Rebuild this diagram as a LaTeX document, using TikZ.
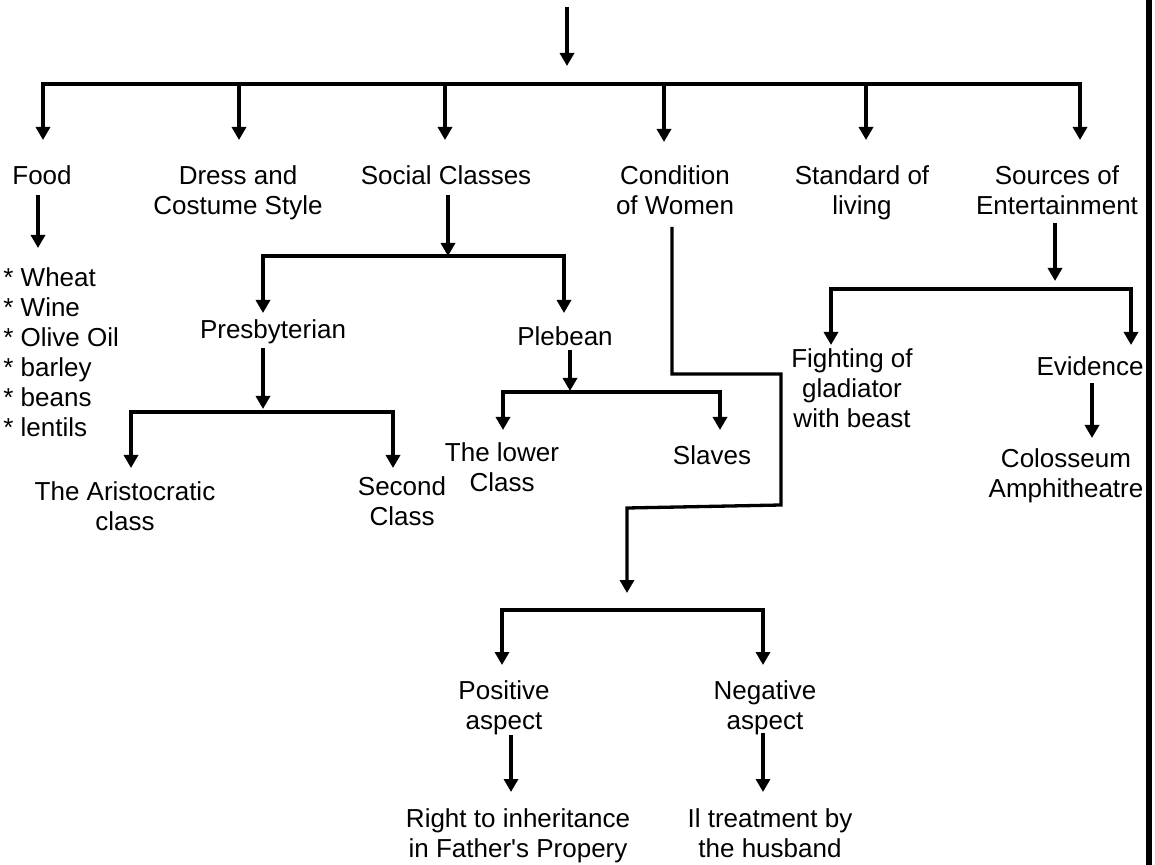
\documentclass[tikz,border=0pt]{standalone}
\usepackage{fontspec}
\setmainfont{Liberation Sans}
\newfontfamily\aposfont{Liberation Sans}
\usetikzlibrary{arrows.meta}
\begin{document}
\begin{tikzpicture}[x=0.5pt,y=-0.5pt,
  lbl/.style={align=center,inner sep=0pt,anchor=base,font=\fontsize{13}{15}\selectfont},
  ln/.style={line width=1.65pt},
  arr/.style={ln,-{Triangle[width=7pt,length=6.5pt]}},
  barr/.style={ln,{Triangle[width=7pt,length=6.5pt]}-{Triangle[width=7pt,length=6.5pt]}},
]
\useasboundingbox[fill=white] (0,0) rectangle (1155,865);

% labels (base anchor = baseline of the last line)
\node[lbl] (food) at (42,185) {Food};
\node[lbl] (dress) at (238,215) {Dress and\\Costume Style};
\node[lbl] (social) at (446,185) {Social Classes};
\node[lbl] (women) at (675,215) {Condition\\of Women};
\node[lbl] (living) at (862,215) {Standard of\\living};
\node[lbl] (ent) at (1057,215) {Sources of\\Entertainment};
\node[lbl,align=left,anchor=base west] (items) at (3,437) {* Wheat\\* Wine\\* Olive Oil\\* barley\\* beans\\* lentils};
\node[lbl] (presb) at (273,339) {Presbyterian};
\node[lbl] (pleb) at (565,346) {Plebean};
\node[lbl] (aristo) at (125,530) {The Aristocratic\\class};
\node[lbl] (second) at (402,525) {Second\\Class};
\node[lbl] (lower) at (502,491) {The lower\\Class};
\node[lbl] (slaves) at (712,465) {Slaves};
\node[lbl] (fight) at (852,428) {Fighting of\\gladiator\\with beast};
\node[lbl] (evid) at (1090,376) {Evidence};
\node[lbl] (colos) at (1066,497) {Colosseum\\Amphitheatre};
\node[lbl] (pos) at (504,729) {Positive\\aspect};
\node[lbl] (neg) at (765,729) {Negative\\aspect};
\node[lbl] (right) at (518,857) {Right to inheritance\\in Father{\aposfont '}s Propery};
\node[lbl] (ill) at (770,857) {Il treatment by\\the husband};

% top arrow and main bar
\coordinate (t0) at (567,7); \coordinate (t1) at (567,66);
\draw[arr] (t0) -- (t1);
\coordinate (m1) at (43,84); \coordinate (m2) at (239,84); \coordinate (m3) at (445,84);
\coordinate (m4) at (664,84); \coordinate (m5) at (866,84); \coordinate (m6) at (1080,84);
\coordinate (i1) at (43,140); \coordinate (i2) at (239,140); \coordinate (i3) at (445,140);
\coordinate (i4) at (664,142); \coordinate (i5) at (866,140); \coordinate (i6) at (1080,140);
\draw[barr] (i1) -- (m1) -- (m6) -- (i6);
\foreach \n in {2,3,4,5} \draw[arr] (m\n) -- (i\n);

% food
\coordinate (f0) at (38,195); \coordinate (f1) at (38,248);
\draw[arr] (f0) -- (f1);

% social classes
\coordinate (s0) at (448,195); \coordinate (s1) at (448,256);
\draw[arr] (s0) -- (s1);
\coordinate (sa) at (263,256); \coordinate (sb) at (564,256);
\coordinate (sa1) at (263,313); \coordinate (sb1) at (564,313);
\draw[barr] (sa1) -- (sa) -- (sb) -- (sb1);

% presbyterian
\coordinate (p0) at (263,348); \coordinate (p1) at (263,409);
\draw[arr] (p0) -- (p1);
\coordinate (pa) at (131,412); \coordinate (pb) at (393,412);
\coordinate (pa1) at (131,468); \coordinate (pb1) at (393,468);
\draw[barr] (pa1) -- (pa) -- (pb) -- (pb1);

% plebean
\coordinate (q0) at (570,350); \coordinate (q1) at (570,391);
\draw[arr] (q0) -- (q1);
\coordinate (qa) at (503,392); \coordinate (qb) at (720,392);
\coordinate (qa1) at (503,430); \coordinate (qb1) at (720,430);
\draw[barr] (qa1) -- (qa) -- (qb) -- (qb1);

% entertainment
\coordinate (e0) at (1055,223); \coordinate (e1) at (1055,281);
\draw[arr] (e0) -- (e1);
\coordinate (ea) at (831,289); \coordinate (eb) at (1131,289);
\coordinate (ea1) at (831,345); \coordinate (eb1) at (1131,345);
\draw[barr] (ea1) -- (ea) -- (eb) -- (eb1);
\coordinate (v0) at (1092,383); \coordinate (v1) at (1092,438);
\draw[arr] (v0) -- (v1);

% condition of women
\coordinate (w0) at (672,227); \coordinate (w1) at (672,374); \coordinate (w2) at (781,374);
\coordinate (w3) at (781,505); \coordinate (w4) at (627,508); \coordinate (w5) at (627,593);
\draw[arr] (w0) -- (w1) -- (w2) -- (w3) -- (w4) -- (w5);
\coordinate (na) at (502,610); \coordinate (nb) at (763,610);
\coordinate (na1) at (502,665); \coordinate (nb1) at (763,665);
\draw[barr] (na1) -- (na) -- (nb) -- (nb1);
\coordinate (r0) at (511,735); \coordinate (r1) at (511,792);
\draw[arr] (r0) -- (r1);
\coordinate (l0) at (763,733); \coordinate (l1) at (763,792);
\draw[arr] (l0) -- (l1);

% right edge bar
\coordinate (edgetop) at (1149,0); \coordinate (edgebot) at (1149,865);
\draw[line width=3pt] (edgetop) -- (edgebot);
\end{tikzpicture}
\end{document}
